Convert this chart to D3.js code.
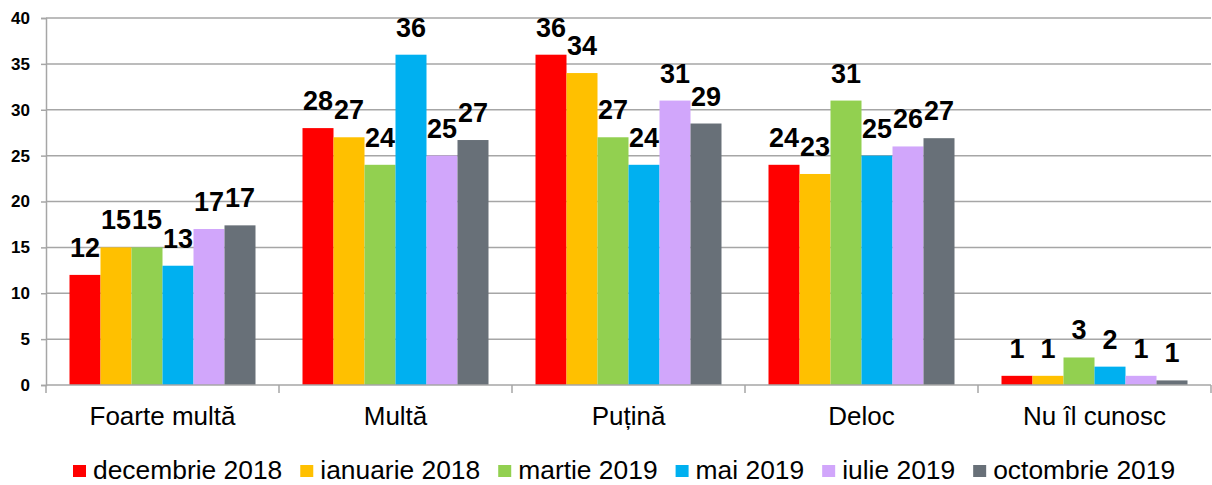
<!DOCTYPE html>
<html>
<head>
<meta charset="utf-8">
<script src="https://cdn.jsdelivr.net/npm/d3@7"></script>
<style>
  html, body { margin: 0; padding: 0; background: #fff; }
  svg { display: block; font-family: "Liberation Sans", Arial, sans-serif; }
</style>
</head>
<body>
<svg id="chart" width="1212" height="485"></svg>
<script>
const categories = ["Foarte multă", "Multă", "Puțină", "Deloc", "Nu îl cunosc"];
const seriesNames = ["decembrie 2018", "ianuarie 2018", "martie 2019", "mai 2019", "iulie 2019", "octombrie 2019"];
const seriesColors = ["#ff0000", "#ffc000", "#92d050", "#00b0f0", "#d1a6fb", "#687078"];
const dec2018 = [12, 28, 36, 24, 1];
const ian2018 = [15, 27, 34, 23, 1];
const mar2019 = [15, 24, 27, 31, 3];
const mai2019 = [13, 36, 24, 25, 2];
const iul2019 = [17, 25, 31, 26, 1];
const oct2019 = [17.4, 26.7, 28.5, 26.9, 0.5];
const seriesValues = [dec2018, ian2018, mar2019, mai2019, iul2019, oct2019];
const yTicks = [0, 5, 10, 15, 20, 25, 30, 35, 40];

const svg = d3.select("#chart");
const mLeft = 46, mRight = 1211, mTop = 18, mBottom = 385;

const x0 = d3.scaleBand().domain(categories).range([mLeft, mRight]).paddingInner(0).paddingOuter(0);
const bw = x0.bandwidth();
const x1 = d3.scaleBand().domain(d3.range(seriesNames.length)).range([23.5, bw - 23.5]).padding(0);
const y = d3.scaleLinear().domain([0, 40]).range([mBottom, mTop]);

// gridlines
svg.append("g").selectAll("line").data(yTicks.filter(d => d > 0)).join("line")
  .attr("x1", mLeft).attr("x2", mRight)
  .attr("y1", d => y(d)).attr("y2", d => y(d))
  .attr("stroke", "#a6a6a6").attr("stroke-width", 1.5);

// y axis
const yAxis = d3.axisLeft(y).tickValues(yTicks).tickSize(5).tickPadding(11);
const gy = svg.append("g").attr("transform", `translate(${mLeft},0)`).call(yAxis);
gy.select(".domain").attr("stroke", "#a6a6a6").attr("stroke-width", 1.5);
gy.selectAll(".tick line").attr("stroke", "#a6a6a6").attr("stroke-width", 1.5);
gy.selectAll(".tick text").attr("font-size", 17).attr("font-weight", "bold")
  .attr("fill", "#000").attr("font-family", "Liberation Sans, Arial, sans-serif");

// bars
const groups = svg.append("g").selectAll("g").data(categories).join("g")
  .attr("transform", d => `translate(${x0(d)},0)`);
groups.selectAll("rect").data((c, ci) => seriesValues.map((vals, si) => ({ si, v: vals[ci] }))).join("rect")
  .attr("x", d => x1(d.si)).attr("width", x1.bandwidth())
  .attr("y", d => y(d.v)).attr("height", d => y(0) - y(d.v))
  .attr("fill", d => seriesColors[d.si]);

// value labels
groups.selectAll("text").data((c, ci) => seriesValues.map((vals, si) => ({ si, v: vals[ci] }))).join("text")
  .attr("x", d => x1(d.si) + x1.bandwidth() / 2)
  .attr("y", d => y(d.v) - 18)
  .attr("text-anchor", "middle")
  .attr("font-size", 27).attr("font-weight", "bold").attr("fill", "#000")
  .text(d => Math.round(d.v));

// x axis
const xAxis = d3.axisBottom(x0).tickSize(0).tickPadding(0);
const gx = svg.append("g").attr("transform", `translate(0,${mBottom})`).call(xAxis);
gx.select(".domain").remove();
gx.selectAll(".tick text").attr("font-size", 26).attr("fill", "#000")
  .attr("font-family", "Liberation Sans, Arial, sans-serif")
  .attr("dy", 0).attr("y", 40);
svg.append("line").attr("x1", mLeft).attr("x2", mRight).attr("y1", mBottom).attr("y2", mBottom)
  .attr("stroke", "#a6a6a6").attr("stroke-width", 1.5);
const bounds = categories.map(c => x0(c)).concat([mRight]);
svg.append("g").selectAll("line").data(bounds).join("line")
  .attr("x1", d => d).attr("x2", d => d).attr("y1", mBottom).attr("y2", mBottom + 8)
  .attr("stroke", "#a6a6a6").attr("stroke-width", 1.5);

// legend
const lg = svg.append("g");
let lx = 73;
seriesNames.forEach((name, i) => {
  lg.append("rect").attr("x", lx).attr("y", 465).attr("width", 13).attr("height", 12).attr("fill", seriesColors[i]);
  const t = lg.append("text").attr("x", lx + 20).attr("y", 479).attr("font-size", 26.4).attr("fill", "#000").text(name);
  lx += 20 + t.node().getComputedTextLength() + 18;
});
</script>
</body>
</html>
